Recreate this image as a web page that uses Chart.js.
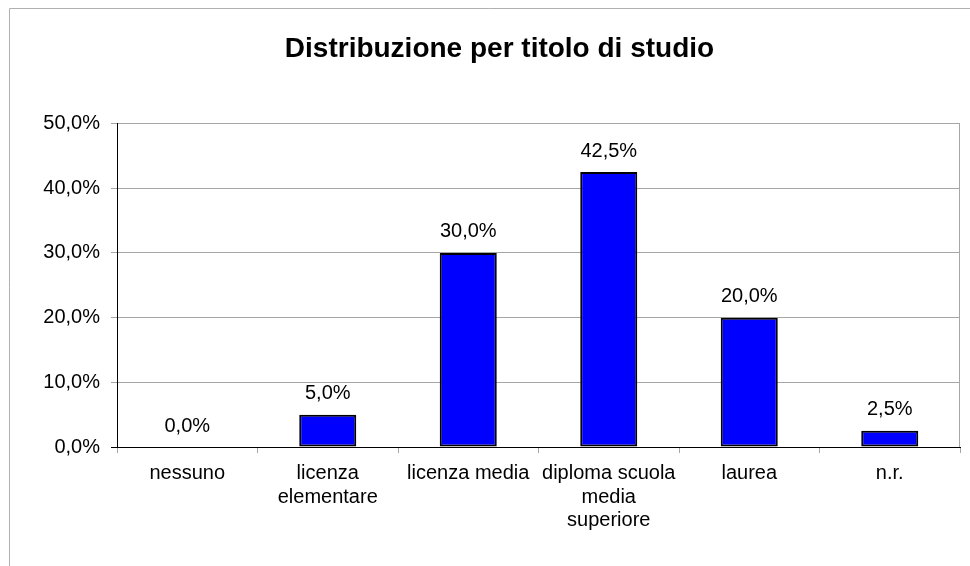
<!DOCTYPE html>
<html>
<head>
<meta charset="utf-8">
<script src="https://cdn.jsdelivr.net/npm/chart.js@4/dist/chart.umd.min.js"></script>
<style>
html,body{margin:0;padding:0;background:#fff;}
#wrap{width:970px;height:566px;position:relative;}
</style>
</head>
<body>
<div id="wrap"><canvas id="c" width="970" height="566"></canvas></div>
<script>
const categories = ['nessuno', ['licenza', 'elementare'], 'licenza media', ['diploma scuola', 'media', 'superiore'], 'laurea', 'n.r.'];
const values = [0, 5, 30, 42.5, 20, 2.5];
const yTicks = [0, 10, 20, 30, 40, 50];
const titleText = 'Distribuzione per titolo di studio';

const fmt = v => Number(v).toFixed(1).replace('.', ',') + '%';
const FONT = "'Liberation Sans', Arial, sans-serif";
const GRID = '#a6a6a6';

const framePlugin = {
  id: 'frame',
  beforeDraw(chart) {
    const ctx = chart.ctx;
    ctx.save();
    ctx.strokeStyle = '#b0b0b0';
    ctx.lineWidth = 1;
    ctx.beginPath();
    ctx.moveTo(9.5, chart.height);
    ctx.lineTo(9.5, 8.5);
    ctx.lineTo(chart.width, 8.5);
    ctx.stroke();
    ctx.restore();
  },
  afterDraw(chart) {
    const a = chart.chartArea;
    const ctx = chart.ctx;
    ctx.save();
    ctx.strokeStyle = GRID;
    ctx.lineWidth = 1;
    ctx.beginPath();
    ctx.moveTo(Math.round(a.right) - 0.5, a.top);
    ctx.lineTo(Math.round(a.right) - 0.5, a.bottom);
    ctx.stroke();
    ctx.restore();
  }
};

const labelPlugin = {
  id: 'vlabels',
  afterDatasetsDraw(chart) {
    const ctx = chart.ctx;
    const meta = chart.getDatasetMeta(0);
    ctx.save();
    ctx.font = '20px ' + FONT;
    ctx.fillStyle = '#000';
    ctx.textAlign = 'center';
    ctx.textBaseline = 'middle';
    meta.data.forEach((bar, i) => {
      ctx.fillText(fmt(values[i]), bar.x, bar.y - 21);
    });
    ctx.restore();
  }
};

new Chart(document.getElementById('c'), {
  type: 'bar',
  data: {
    labels: categories,
    datasets: [{
      data: values,
      backgroundColor: '#0000FF',
      borderColor: '#000000',
      borderWidth: 2,
      borderSkipped: false,
      barPercentage: 0.406,
      categoryPercentage: 1
    }]
  },
  options: {
    responsive: false,
    devicePixelRatio: 1,
    animation: false,
    layout: { padding: { left: 39, right: 10, top: 0, bottom: 0 } },
    plugins: {
      legend: { display: false },
      tooltip: { enabled: false },
      title: {
        display: true,
        text: titleText,
        color: '#000',
        font: { family: FONT, size: 28, weight: 'bold', lineHeight: 1.2 },
        padding: { top: 32, bottom: 58 }
      }
    },
    scales: {
      x: {
        afterFit(s) { s.height = 119; },
        grid: {
          offset: true,
          drawOnChartArea: false,
          drawTicks: true,
          tickLength: 6,
          color: GRID
        },
        border: { display: true, color: '#000', width: 1 },
        ticks: {
          color: '#000',
          font: { family: FONT, size: 20, lineHeight: 1.17 },
          padding: 9,
          maxRotation: 0,
          autoSkip: false
        }
      },
      y: {
        min: 0,
        max: 50,
        afterFit(s) { s.width = 78; },
        afterBuildTicks(s) { s.ticks = yTicks.map(v => ({ value: v })); },
        grid: {
          color: ctx => (ctx.tick && ctx.tick.value === 0 ? '#000' : GRID),
          tickLength: 6,
          drawTicks: true
        },
        border: { display: true, color: '#000', width: 1 },
        ticks: {
          color: '#000',
          font: { family: FONT, size: 20 },
          padding: 11,
          callback: v => fmt(v)
        }
      }
    }
  },
  plugins: [framePlugin, labelPlugin]
});
</script>
</body>
</html>
